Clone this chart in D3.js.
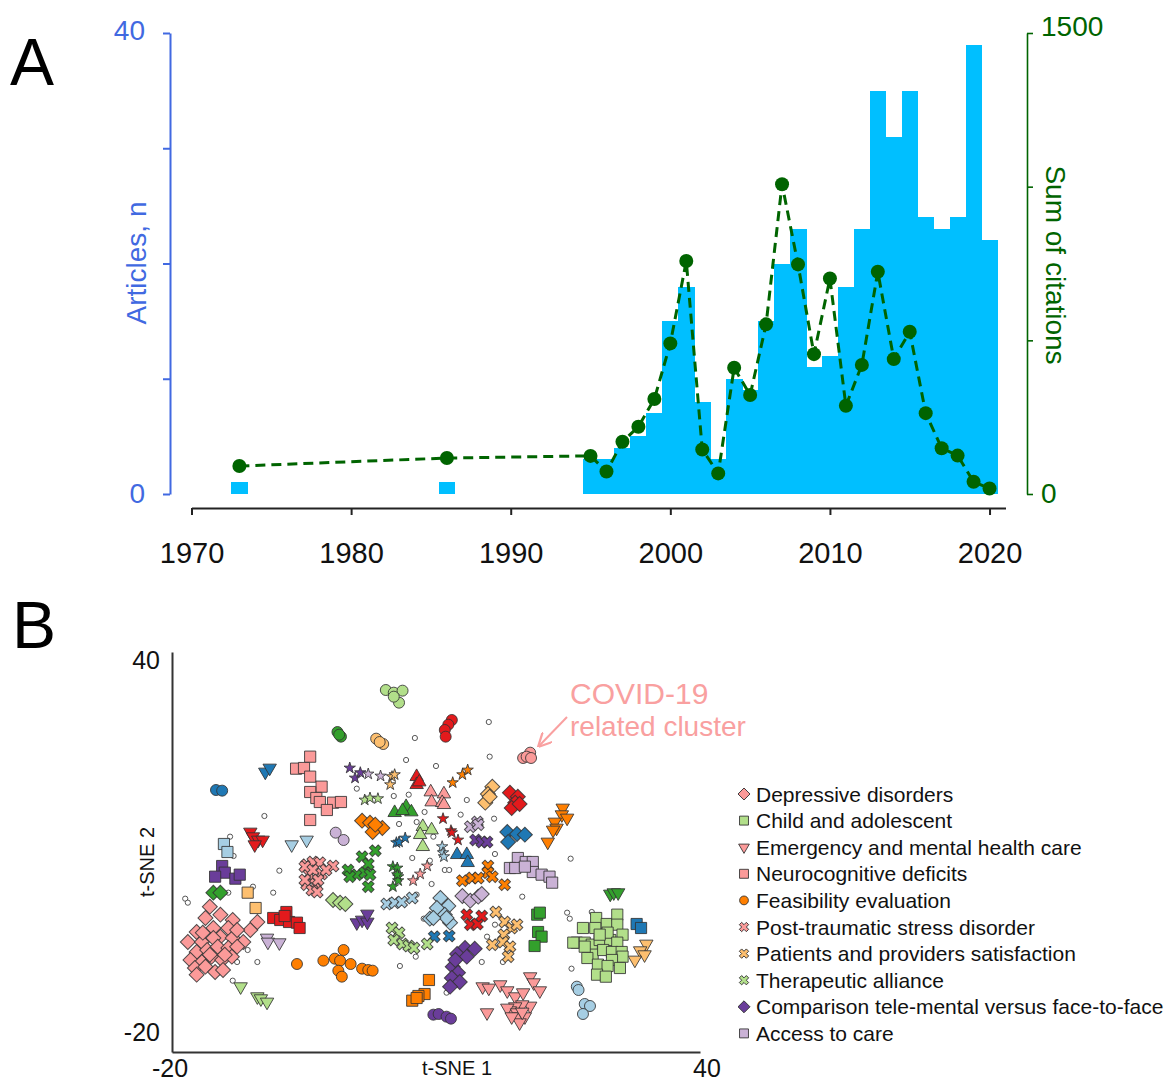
<!DOCTYPE html>
<html>
<head>
<meta charset="utf-8">
<script src="https://cdn.jsdelivr.net/npm/d3@7"></script>
<style>
  body { margin: 0; background: #fff; }
  text { font-family: "Liberation Sans", Arial, sans-serif; }
</style>
</head>
<body>
<svg id="chart" width="1168" height="1083"></svg>
<script>
// ---------- panel A data ----------
var years = [1973, 1986, 1995, 1996, 1997, 1998, 1999, 2000, 2001, 2002, 2003, 2004, 2005, 2006,
  2007, 2008, 2009, 2010, 2011, 2012, 2013, 2014, 2015, 2016, 2017, 2018, 2019, 2020];
var articles = [1, 1, 3, 3, 4, 5, 7, 15, 18, 8, 3, 10, 9, 15, 20, 23, 11, 12, 18, 23, 35, 31, 35, 24, 23, 24, 39, 22];
var citations = [91, 117, 124, 73, 170, 219, 309, 490, 758, 145, 67, 411, 322, 552, 1008, 747, 455, 701,
  287, 420, 723, 439, 528, 263, 149, 125, 40, 18];
var yearTicks = [1970, 1980, 1990, 2000, 2010, 2020];

// ---------- panel B data (t-SNE coordinates) ----------
var depressive = [[-15.7,1.8],[-14.5,0.6],[-16.2,0.1],[-13.1,-0.2],[-17.2,-2.0],[-15.3,-1.4],[-13.6,-1.4],[-14.5,-2.7],
  [-13.1,-2.9],[-18.2,-3.5],[-16.6,-3.5],[-15.3,-2.9],[-11.1,-1.7],[-10.3,-0.5],[-11.9,-3.5],[-17.2,-5.0],[-16.0,-4.7],
  [-14.8,-4.2],[-13.6,-4.4],[-12.6,-4.2],[-17.9,-6.2],[-16.6,-6.5],[-15.5,-5.7],[-14.3,-6.2],[-13.2,-5.7],[-17.4,-7.4],
  [-16.2,-7.2],[-15.1,-8.0],[-14.2,-7.7],[-17.2,-8.4],[-15.7,-5.4],[-14.0,-5.4],[-16.5,-2.1],[-12.6,-1.7]];
var childAdolescent = [[26.7,-1.4],[28.2,0.1],[29.4,-0.8],[30.6,0.6],[30.6,-0.9],[28.1,-1.4],[26.0,-3.6],[26.9,-3.6],
  [27.7,-3.9],[28.6,-3.2],[29.8,-3.2],[29.5,-2.1],[31.2,-2.4],[30.6,-3.6],[27.8,-5.4],[27.2,-5.9],[29.0,-4.7],[30.0,-5.0],
  [31.1,-5.0],[31.2,-5.7],[30.0,-6.2],[28.4,-6.9],[29.5,-7.1],[30.9,-7.4],[28.3,-8.4],[29.3,-8.7],[26.9,-4.2],[25.6,-3.6],
  [28.6,-2.4]];
var emergency = [[15.3,-10.2],[16.0,-10.4],[17.3,-9.9],[18.1,-10.8],[19.0,-11.7],[19.9,-11.1],[20.7,-8.7],[21.1,-9.6],
  [21.8,-10.8],[20.7,-13.1],[19.8,-12.9],[19.0,-13.2],[18.4,-13.8],[18.1,-13.4],[19.2,-14.1],[19.4,-14.7],[20.1,-14.7],
  [15.8,-14.1],[19.5,-15.6],[18.6,-14.7],[19.8,-14.0]];
var neurocognitive = [[-4.3,24.3],[-5.9,22.5],[-5.0,22.6],[-4.3,21.3],[-3.0,19.8],[-4.3,19.0],[-3.6,18.1],[-3.2,17.5],
  [-1.7,17.4],[-0.8,17.5],[-2.4,16.3],[-4.3,14.8]];
var feasibility = [[-5.8,-6.8],[-2.8,-6.3],[-1.5,-6.0],[-0.9,-6.3],[-0.5,-4.7],[0.3,-6.8],[-1.1,-7.8],[-0.7,-8.7],
  [1.6,-7.5],[2.3,-7.7],[2.8,-7.8]];
var ptsd = [[-4.7,8.1],[-4.0,8.5],[-3.2,8.4],[-1.7,7.9],[-4.4,6.6],[-3.0,6.7],[-4.7,5.1],[-3.7,5.2],[-4.1,4.3],
  [-3.5,4.0],[-4.9,7.8],[-4.0,7.3],[-4.9,5.8],[-3.4,5.8],[-2.5,7.3]];
var satisfaction = [[16.8,1.0],[17.8,-0.5],[18.6,-1.4],[19.2,-0.9],[17.7,-2.4],[17.6,-3.5],[18.4,-4.2],[18.2,-5.7],[16.4,-3.9]];
var alliance = [[5.0,-1.4],[5.8,-2.1],[5.2,-3.2],[6.2,-3.8],[6.9,-4.1],[7.5,-4.4],[9.0,-3.8]];
var comparison = [[13.3,-4.4],[14.4,-4.5],[12.4,-5.3],[11.9,-7.2],[12.5,-8.1],[11.8,-8.9],[12.7,-9.5],[11.6,-10.2],
  [13.5,-5.7],[12.2,-6.2]];
var accessCare = [[19.3,9.1],[18.4,7.6],[19.0,7.6],[20.2,8.5],[21.0,8.5],[21.0,7.0],[22.0,6.6],[22.9,6.3],[23.2,5.4],[20.1,7.8]];

var ltGreenCircles = [[4.3,34.3],[5.2,33.9],[6.2,34.2],[5.8,32.4],[5.2,33.3]];
var redCircles = [[11.8,29.8],[11.4,29.1],[11.0,28.3],[11.1,27.3]];
var greenCircles = [[-1.2,28.0],[-0.8,27.3],[-1.0,27.6]];
var ltOrangeCircles = [[3.2,27.0],[4.0,26.2],[3.6,26.5]];
var covidCircles = [[19.9,24.1],[20.7,24.9],[20.3,24.3],[20.8,24.1]];
var blueTriDown = [[-9.4,22.0],[-8.9,22.6]];
var blueCircles = [[-15.0,19.3],[-14.3,19.2]];
var purpleStars = [[0.2,22.6],[0.8,21.1],[1.4,21.9]];
var ltPurpleStars = [[2.3,21.7],[3.7,21.4]];
var ltOrangeStars = [[5.0,21.3],[5.3,21.6],[4.8,20.1]];
var ltGreenStars = [[1.9,17.8],[2.5,18.1],[3.4,18.0]];
var redTriUp = [[7.8,21.3],[7.8,20.1],[8.1,20.5]];
var pinkTriUp = [[9.4,19.0],[10.9,18.7],[9.5,17.5],[10.7,17.4],[10.9,17.1]];
var greenTriUp = [[5.3,15.9],[6.6,16.8],[7.2,16.0],[6.2,16.2]];
var orangeDiamonds = [[1.6,14.7],[2.5,14.4],[3.9,13.6],[2.8,13.0],[3.1,14.1]];
var ltPurpleCircles = [[-1.4,12.9],[-0.5,11.8]];
var ltBlueTriDown = [[-6.4,11.1],[-4.7,11.8]];
var redTriDown = [[-11.1,13.0],[-10.8,12.3],[-10.2,11.8],[-9.7,11.8],[-10.6,11.1]];
var ltBlueSquares = [[-14.1,11.2],[-13.7,10.0]];
var purpleSquares = [[-14.3,7.9],[-14.0,6.9],[-15.1,6.3],[-12.8,6.0],[-12.3,6.6]];
var greenDiamonds = [[-15.3,3.9],[-14.5,3.9]];
var ltOrangeSquares = [[-11.4,3.9],[-10.5,1.6]];
var redSquares = [[-8.5,0.1],[-7.7,-0.2],[-7.0,1.0],[-6.7,-0.5],[-5.8,-0.6],[-5.5,-1.4],[-7.2,0.4]];
var ltPurpleTriDown = [[-9.2,-2.9],[-9.1,-3.5],[-7.8,-3.6]];
var ltGreenTriDown = [[-12.2,-10.2],[-10.3,-11.7],[-9.9,-12.0],[-9.2,-12.5]];
var greenCross = [[3.1,10.2],[1.6,9.3],[2.3,8.2],[0.0,7.3],[1.0,6.6],[1.9,6.9],[2.5,6.6],[2.3,4.8],[0.2,6.3]];
var greenStars = [[5.1,7.8],[5.6,7.6],[5.7,6.3],[5.7,5.7],[5.1,4.8],[5.6,6.6]];
var pinkStars = [[7.4,5.7],[8.2,6.7],[9.0,7.9]];
var blueStars = [[5.5,11.4],[5.8,11.5],[6.5,12.1]];
var ltGreenTriUp = [[8.5,13.8],[9.5,13.3],[8.2,12.6],[8.5,10.8]];
var redStars = [[10.8,15.0],[11.7,13.2],[12.5,11.8],[11.8,12.9]];
var ltBlueStars = [[10.7,10.8],[10.8,9.9],[10.9,9.3]];
var blueTriUp = [[12.4,9.6],[13.5,9.6],[13.6,8.4]];
var ltPurpleCross = [[13.9,13.8],[14.7,14.5],[14.8,14.1]];
var purpleCross = [[14.5,11.8],[15.2,11.5],[15.8,11.5]];
var orangeStars = [[11.9,20.4],[13.0,21.6],[13.6,22.3]];
var ltOrangeDiamonds = [[16.4,19.8],[15.9,18.7],[15.6,17.4],[16.1,18.3]];
var redDiamonds = [[18.4,18.9],[19.3,18.3],[19.0,17.4],[18.6,16.6],[19.5,17.2]];
var blueDiamonds = [[18.1,13.0],[19.2,12.7],[20.1,12.6],[18.2,11.5]];
var orangeTriDown = [[24.4,16.6],[24.3,15.6],[24.9,15.1],[23.5,14.5],[23.7,13.6],[23.3,13.3],[22.7,11.5]];
var orangeCross = [[15.9,7.9],[15.9,6.9],[16.4,6.3],[13.0,5.7],[14.1,6.1],[14.8,6.1],[17.8,5.1]];
var ltBlueCross = [[4.4,2.2],[5.3,2.4],[6.1,2.5],[7.3,3.1]];
var ltGreenDiamonds = [[-1.7,2.8],[-0.9,2.4],[-0.3,2.2]];
var purpleTriDown = [[1.0,-0.6],[1.6,-0.2],[2.2,-0.5],[2.2,0.7]];
var ltBlueDiamonds = [[10.5,3.1],[11.4,1.9],[10.1,1.6],[11.0,0.6],[11.6,-0.6],[9.3,0.0],[11.2,0.1],[9.7,0.1]];
var blueCross = [[9.8,-2.7],[11.5,-2.6]];
var ltPurpleDiamonds = [[13.0,3.4],[13.9,2.7],[14.8,3.3],[15.2,3.7]];
var redCross = [[13.5,0.6],[13.9,-0.9],[14.7,-0.8],[15.2,0.4]];
var purpleCircles = [[9.7,-14.4],[10.3,-14.3],[11.2,-14.7],[11.7,-15.0]];
var orangeSquares = [[9.2,-9.2],[8.7,-11.3],[8.0,-11.6],[7.3,-12.3],[7.8,-11.9]];
var greenSquares = [[21.5,0.6],[21.8,0.9],[21.6,-2.0],[22.0,-2.7],[21.2,-4.1]];
var greenTriDown = [[29.8,3.7],[30.2,3.9],[30.7,3.9]];
var blueSquares = [[32.8,-0.8],[33.3,-1.4]];
var ltOrangeTriDown = [[33.9,-3.8],[33.2,-4.8],[33.7,-5.4],[32.6,-6.2]];
var ltBlueCircles = [[26.0,-10.2],[26.2,-10.7],[26.9,-12.8],[27.5,-13.1],[26.7,-14.3]];
var unclustered = [[7.6,27.1],[6.6,23.8],[10.0,22.9],[16.0,29.5],[16.1,24.3],[1.0,19.5],[5.2,18.4],[6.9,18.6],
  [8.7,16.0],[5.8,14.2],[7.8,14.5],[13.5,17.8],[12.8,15.6],[16.6,15.0],[-9.5,15.4],[-13.4,12.3],[-13.0,9.4],
  [-7.8,7.2],[7.3,9.1],[9.3,8.7],[9.7,12.3],[11.0,7.3],[11.5,7.3],[9.5,5.2],[-10.8,4.8],[-8.5,3.9],[16.7,9.7],
  [25.3,9.0],[19.8,3.3],[-18.5,3.0],[-18.2,2.4],[-13.6,3.9],[-11.4,-4.7],[-12.6,-6.5],[-10.3,-6.5],[-15.0,-8.1],
  [-13.1,-9.3],[5.9,-7.1],[7.7,-5.7],[8.6,0.0],[11.2,-11.1],[24.9,0.9],[25.2,0.0],[27.7,1.0],[15.2,-6.5],
  [17.6,-6.5],[15.8,-2.7],[16.7,-0.9],[25.4,-7.5],[7.8,3.6]];

var legendNames = ["Depressive disorders", "Child and adolescent", "Emergency and mental health care",
  "Neurocognitive deficits", "Feasibility evaluation", "Post-traumatic stress disorder",
  "Patients and providers satisfaction", "Therapeutic alliance", "Comparison tele-mental versus face-to-face",
  "Access to care"];

// ---------- styling ----------
var col = {
  pink: "#FB9A99", ltGreen: "#B2DF8A", green: "#33A02C", red: "#E31A1C", orange: "#FF7F00",
  ltOrange: "#FDBF6F", blue: "#1F78B4", ltBlue: "#A6CEE3", purple: "#6A3D9A", ltPurple: "#CAB2D6"
};

// legend groups first (same order as legendNames)
var legendGroups = [
  { pts: depressive, shape: "diamond", color: col.pink },
  { pts: childAdolescent, shape: "square", color: col.ltGreen },
  { pts: emergency, shape: "triDown", color: col.pink },
  { pts: neurocognitive, shape: "square", color: col.pink },
  { pts: feasibility, shape: "circle", color: col.orange },
  { pts: ptsd, shape: "cross", color: col.pink },
  { pts: satisfaction, shape: "cross", color: col.ltOrange },
  { pts: alliance, shape: "cross", color: col.ltGreen },
  { pts: comparison, shape: "diamond", color: col.purple },
  { pts: accessCare, shape: "square", color: col.ltPurple }
];

var otherGroups = [
  { pts: ltGreenCircles, shape: "circle", color: col.ltGreen },
  { pts: redCircles, shape: "circle", color: col.red },
  { pts: greenCircles, shape: "circle", color: col.green },
  { pts: ltOrangeCircles, shape: "circle", color: col.ltOrange },
  { pts: covidCircles, shape: "circle", color: col.pink },
  { pts: blueTriDown, shape: "triDown", color: col.blue },
  { pts: blueCircles, shape: "circle", color: col.blue },
  { pts: purpleStars, shape: "star", color: col.purple },
  { pts: ltPurpleStars, shape: "star", color: col.ltPurple },
  { pts: ltOrangeStars, shape: "star", color: col.ltOrange },
  { pts: ltGreenStars, shape: "star", color: col.ltGreen },
  { pts: redTriUp, shape: "triUp", color: col.red },
  { pts: pinkTriUp, shape: "triUp", color: col.pink },
  { pts: greenTriUp, shape: "triUp", color: col.green },
  { pts: orangeDiamonds, shape: "diamond", color: col.orange },
  { pts: ltPurpleCircles, shape: "circle", color: col.ltPurple },
  { pts: ltBlueTriDown, shape: "triDown", color: col.ltBlue },
  { pts: redTriDown, shape: "triDown", color: col.red },
  { pts: ltBlueSquares, shape: "square", color: col.ltBlue },
  { pts: purpleSquares, shape: "square", color: col.purple },
  { pts: greenDiamonds, shape: "diamond", color: col.green },
  { pts: ltOrangeSquares, shape: "square", color: col.ltOrange },
  { pts: redSquares, shape: "square", color: col.red },
  { pts: ltPurpleTriDown, shape: "triDown", color: col.ltPurple },
  { pts: ltGreenTriDown, shape: "triDown", color: col.ltGreen },
  { pts: greenCross, shape: "cross", color: col.green },
  { pts: greenStars, shape: "star", color: col.green },
  { pts: pinkStars, shape: "star", color: col.pink },
  { pts: blueStars, shape: "star", color: col.blue },
  { pts: ltGreenTriUp, shape: "triUp", color: col.ltGreen },
  { pts: redStars, shape: "star", color: col.red },
  { pts: ltBlueStars, shape: "star", color: col.ltBlue },
  { pts: blueTriUp, shape: "triUp", color: col.blue },
  { pts: ltPurpleCross, shape: "cross", color: col.ltPurple },
  { pts: purpleCross, shape: "cross", color: col.purple },
  { pts: orangeStars, shape: "star", color: col.orange },
  { pts: ltOrangeDiamonds, shape: "diamond", color: col.ltOrange },
  { pts: redDiamonds, shape: "diamond", color: col.red },
  { pts: blueDiamonds, shape: "diamond", color: col.blue },
  { pts: orangeTriDown, shape: "triDown", color: col.orange },
  { pts: orangeCross, shape: "cross", color: col.orange },
  { pts: ltBlueCross, shape: "cross", color: col.ltBlue },
  { pts: ltGreenDiamonds, shape: "diamond", color: col.ltGreen },
  { pts: purpleTriDown, shape: "triDown", color: col.purple },
  { pts: ltBlueDiamonds, shape: "diamond", color: col.ltBlue },
  { pts: blueCross, shape: "cross", color: col.blue },
  { pts: ltPurpleDiamonds, shape: "diamond", color: col.ltPurple },
  { pts: redCross, shape: "cross", color: col.red },
  { pts: purpleCircles, shape: "circle", color: col.purple },
  { pts: orangeSquares, shape: "square", color: col.orange },
  { pts: greenSquares, shape: "square", color: col.green },
  { pts: greenTriDown, shape: "triDown", color: col.green },
  { pts: blueSquares, shape: "square", color: col.blue },
  { pts: ltOrangeTriDown, shape: "triDown", color: col.ltOrange },
  { pts: ltBlueCircles, shape: "circle", color: col.ltBlue }
];

var symType = { circle: d3.symbolCircle, square: d3.symbolSquare, diamond: d3.symbolSquare,
  triUp: d3.symbolTriangle, triDown: d3.symbolTriangle, cross: d3.symbolCross, star: d3.symbolStar };
var symSize = { circle: 95, square: 125, diamond: 112, triUp: 78, triDown: 78, cross: 85, star: 40 };
var symRot = { circle: 0, square: 0, diamond: 45, triUp: 0, triDown: 180, cross: 45, star: 0 };

var svg = d3.select("#chart");
var blueAxis = "#4169E1";
var greenLine = "#006400";

// ================= PANEL A =================
var xA = d3.scaleLinear().domain([1970, 2021]).range([191.5, 1005.5]);
var yArt = d3.scaleLinear().domain([0, 40]).range([494, 33]);
var yCit = d3.scaleLinear().domain([0, 1500]).range([494, 33]);

var gA = svg.append("g");

// histogram bars
gA.selectAll("rect.bar")
  .data(years.map((y, i) => ({ year: y, n: articles[i] })))
  .enter()
  .append("rect")
  .attr("class", "bar")
  .attr("x", d => xA(d.year - 0.5))
  .attr("width", d => xA(d.year + 0.5) - xA(d.year - 0.5) + 0.6)
  .attr("y", d => yArt(d.n))
  .attr("height", d => yArt(0) - yArt(d.n))
  .attr("fill", "#00BFFF")
  .attr("shape-rendering", "crispEdges");

// citations line
var citData = years.map((y, i) => ({ year: y, c: citations[i] }));
gA.append("path")
  .datum(citData)
  .attr("fill", "none")
  .attr("stroke", greenLine)
  .attr("stroke-width", 3)
  .attr("stroke-dasharray", "10,6")
  .attr("d", d3.line().x(d => xA(d.year)).y(d => yCit(d.c)));

gA.selectAll("circle.cit")
  .data(citData)
  .enter()
  .append("circle")
  .attr("class", "cit")
  .attr("cx", d => xA(d.year))
  .attr("cy", d => yCit(d.c))
  .attr("r", 7)
  .attr("fill", greenLine);

// x axis
var xAxisA = gA.append("g")
  .attr("transform", "translate(0,508)")
  .call(d3.axisBottom(xA).tickValues(yearTicks).tickFormat(d3.format("d"))
    .tickSize(7).tickSizeOuter(0).tickPadding(27));
xAxisA.selectAll("path, line").attr("stroke", "#222").attr("stroke-width", 2);
xAxisA.selectAll("text").attr("font-size", 29).attr("fill", "#111");

// left axis (articles)
var yAxisL = gA.append("g")
  .attr("transform", "translate(170,0)")
  .call(d3.axisLeft(yArt).tickValues([0, 10, 20, 30, 40])
    .tickFormat(d => (d === 0 || d === 40) ? d : "")
    .tickSize(7).tickSizeOuter(0).tickPadding(18));
yAxisL.selectAll("path, line").attr("stroke", blueAxis).attr("stroke-width", 2);
yAxisL.selectAll("text").attr("font-size", 28).attr("fill", blueAxis);
yAxisL.selectAll(".tick text").filter(d => d === 40).attr("dy", "0.22em");

gA.append("text")
  .attr("transform", "translate(146,263) rotate(-90)")
  .attr("text-anchor", "middle")
  .attr("font-size", 28)
  .attr("fill", blueAxis)
  .text("Articles, n");

// right axis (citations)
var yAxisR = gA.append("g")
  .attr("transform", "translate(1027,0)")
  .call(d3.axisRight(yCit).tickValues([0, 500, 1000, 1500])
    .tickFormat(d => (d === 0 || d === 1500) ? d : "")
    .tickSize(6).tickSizeOuter(0).tickPadding(8));
yAxisR.selectAll("path, line").attr("stroke", greenLine).attr("stroke-width", 1.6);
yAxisR.selectAll("text").attr("font-size", 28).attr("fill", greenLine);
yAxisR.selectAll(".tick text").filter(d => d === 1500).attr("dy", "0.1em");

gA.append("text")
  .attr("transform", "translate(1046,265) rotate(90)")
  .attr("text-anchor", "middle")
  .attr("font-size", 28)
  .attr("fill", greenLine)
  .text("Sum of citations");

svg.append("text").attr("x", 10).attr("y", 85).attr("font-size", 66).attr("fill", "#000").text("A");
svg.append("text").attr("x", 12).attr("y", 648).attr("font-size", 66).attr("fill", "#000").text("B");

// ================= PANEL B =================
var xB = d3.scaleLinear().domain([-20, 40]).range([172, 700]);
var yB = d3.scaleLinear().domain([-20, 40]).range([1052, 652]);

var gB = svg.append("g");

gB.append("g")
  .attr("transform", "translate(0,1052)")
  .call(d3.axisBottom(xB).tickValues([]).tickSizeOuter(0));
gB.append("g")
  .attr("transform", "translate(172,0)")
  .call(d3.axisLeft(yB).tickValues([]).tickSizeOuter(0));
gB.selectAll(".domain").attr("stroke", "#333").attr("stroke-width", 2);

var tickB = gB.append("g").attr("font-size", 25).attr("fill", "#111");
tickB.append("text").attr("x", xB(-20) - 2).attr("y", 1077).attr("text-anchor", "middle").text("-20");
tickB.append("text").attr("x", xB(40) + 7).attr("y", 1077).attr("text-anchor", "middle").text("40");
tickB.append("text").attr("x", 160).attr("y", yB(40) + 17).attr("text-anchor", "end").text("40");
tickB.append("text").attr("x", 160).attr("y", yB(-20) - 11).attr("text-anchor", "end").text("-20");

gB.append("text").attr("x", 457).attr("y", 1075).attr("text-anchor", "middle")
  .attr("font-size", 20).attr("fill", "#111").text("t-SNE 1");
gB.append("text").attr("transform", "translate(154,862) rotate(-90)").attr("text-anchor", "middle")
  .attr("font-size", 20).attr("fill", "#111").text("t-SNE 2");

function symbolPath(shape) {
  return d3.symbol().type(symType[shape]).size(symSize[shape])();
}

// unclustered points: small open circles
gB.selectAll("circle.free")
  .data(unclustered)
  .enter()
  .append("circle")
  .attr("class", "free")
  .attr("cx", d => xB(d[0]))
  .attr("cy", d => yB(d[1]))
  .attr("r", 2.6)
  .attr("fill", "#fff")
  .attr("stroke", "#555")
  .attr("stroke-width", 1);

var allGroups = otherGroups.concat(legendGroups);
allGroups.forEach(grp => {
  gB.append("g").selectAll("path")
    .data(grp.pts)
    .enter()
    .append("path")
    .attr("d", symbolPath(grp.shape))
    .attr("transform", d => `translate(${xB(d[0])},${yB(d[1])}) rotate(${symRot[grp.shape]})`)
    .attr("fill", grp.color)
    .attr("stroke", "#333")
    .attr("stroke-width", 1)
    .attr("stroke-opacity", 0.85);
});

// COVID annotation
var covidPink = "#F9A0A0";
svg.append("defs").append("marker")
  .attr("id", "arrowHead")
  .attr("viewBox", "0 0 10 10")
  .attr("refX", 9).attr("refY", 5)
  .attr("markerWidth", 7).attr("markerHeight", 7)
  .attr("orient", "auto")
  .append("path")
  .attr("d", "M0,0 L10,5 L0,10")
  .attr("fill", "none")
  .attr("stroke", covidPink)
  .attr("stroke-width", 1.6);

gB.append("line")
  .attr("x1", 567).attr("y1", 717).attr("x2", 539).attr("y2", 746)
  .attr("stroke", covidPink).attr("stroke-width", 2)
  .attr("marker-end", "url(#arrowHead)");
gB.append("text").attr("x", 570).attr("y", 704).attr("font-size", 30).attr("fill", covidPink).text("COVID-19");
gB.append("text").attr("x", 570).attr("y", 736).attr("font-size", 28).attr("fill", covidPink).text("related cluster");

// legend
var legend = svg.append("g");
legendGroups.forEach((grp, i) => {
  var ly = 794 + i * 26.6;
  legend.append("path")
    .attr("d", symbolPath(grp.shape))
    .attr("transform", `translate(744,${ly}) rotate(${symRot[grp.shape]}) scale(0.8)`)
    .attr("fill", grp.color)
    .attr("stroke", "#333")
    .attr("stroke-width", 1.1);
  legend.append("text")
    .attr("x", 756)
    .attr("y", ly + 7.5)
    .attr("font-size", 21)
    .attr("fill", "#111")
    .text(legendNames[i]);
});
</script>
</body>
</html>
